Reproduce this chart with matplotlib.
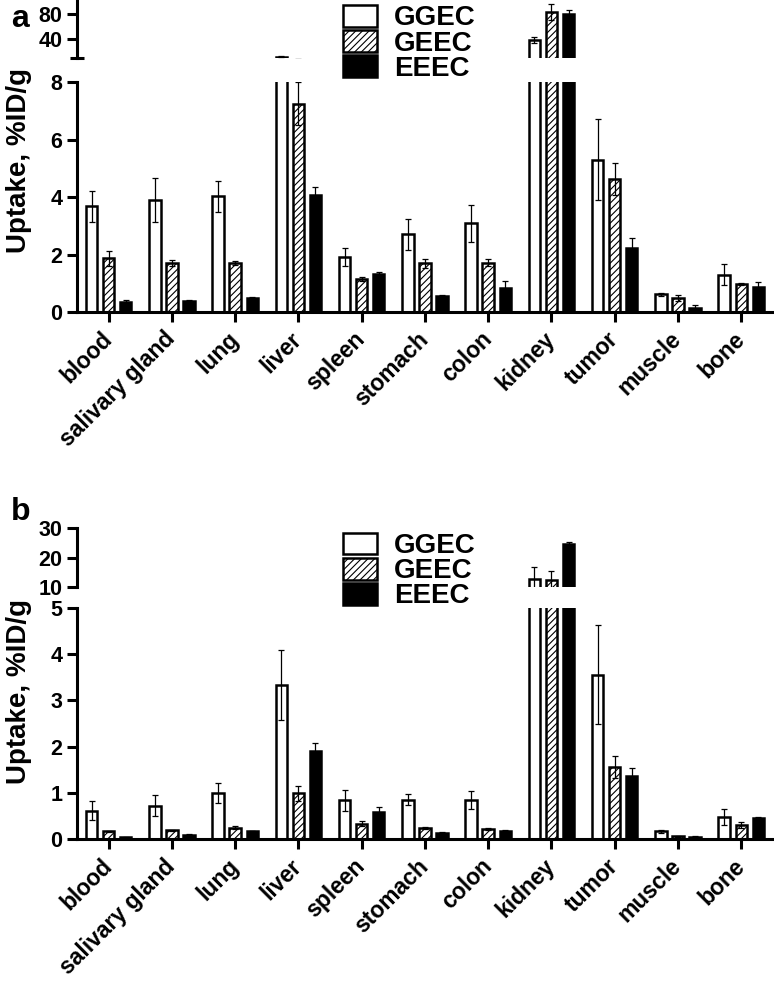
import numpy as np
import matplotlib
matplotlib.use("Agg")
import matplotlib.pyplot as plt

plt.rcParams['font.family'] = ['Liberation Sans', 'DejaVu Sans']
plt.rcParams['font.weight'] = 'bold'
plt.rcParams['hatch.linewidth'] = 0.8

organs = ['blood', 'salivary gland', 'lung', 'liver', 'spleen', 'stomach',
          'colon', 'kidney', 'tumor', 'muscle', 'bone']
series = ['GGEC', 'GEEC', 'EEEC']

# panel a
a_ggec = [3.68, 3.89, 4.02, 11.3, 1.92, 2.70, 3.09, 38.4, 5.30, 0.62, 1.30]
a_ggec_err = [0.54, 0.77, 0.53, 0.5, 0.32, 0.53, 0.65, 4.3, 1.40, 0.05, 0.37]
a_geec = [1.87, 1.71, 1.71, 7.24, 1.15, 1.69, 1.72, 84.0, 4.62, 0.49, 0.98]
a_geec_err = [0.26, 0.10, 0.07, 0.75, 0.07, 0.15, 0.12, 13.0, 0.55, 0.09, 0.03]
a_eeec = [0.36, 0.40, 0.50, 4.06, 1.32, 0.55, 0.82, 80.5, 2.24, 0.15, 0.88]
a_eeec_err = [0.05, 0.01, 0.03, 0.30, 0.07, 0.03, 0.27, 6.5, 0.35, 0.09, 0.15]

# panel b
b_ggec = [0.62, 0.73, 1.00, 3.34, 0.84, 0.86, 0.85, 12.6, 3.56, 0.17, 0.49]
b_ggec_err = [0.20, 0.23, 0.22, 0.76, 0.23, 0.12, 0.20, 4.2, 1.07, 0.03, 0.17]
b_geec = [0.17, 0.20, 0.25, 0.99, 0.34, 0.25, 0.22, 12.3, 1.56, 0.07, 0.31]
b_geec_err = [0.02, 0.01, 0.03, 0.16, 0.06, 0.02, 0.02, 3.1, 0.23, 0.01, 0.07]
b_eeec = [0.04, 0.09, 0.18, 1.90, 0.59, 0.14, 0.19, 24.5, 1.36, 0.06, 0.46]
b_eeec_err = [0.01, 0.02, 0.01, 0.17, 0.10, 0.01, 0.01, 0.8, 0.18, 0.01, 0.02]

styles = [dict(color='white', hatch=None),
          dict(color='white', hatch='/////'),
          dict(color='black', hatch=None)]

x = np.arange(len(organs))
offsets = [-0.27, 0, 0.27]
width = 0.18


def draw_bars(ax, vals, errs):
    handles = []
    for k in range(3):
        b = ax.bar(x + offsets[k], vals[k], width, facecolor=styles[k]['color'],
                   edgecolor='black', linewidth=1.8, hatch=styles[k]['hatch'],
                   label=series[k], zorder=2)
        ax.errorbar(x + offsets[k], vals[k], yerr=errs[k], fmt='none',
                    ecolor='black', elinewidth=0.9, capsize=2, capthick=0.9,
                    zorder=3)
        handles.append(b)
    ax.set_xlim(-0.5, 10.5)
    return handles


def style_axes(ax):
    for s in ['top', 'right']:
        ax.spines[s].set_visible(False)
    for s in ['left', 'bottom']:
        ax.spines[s].set_linewidth(2.2)
    ax.tick_params(width=2.2, length=7, labelsize=15.5)
    for lab in ax.get_yticklabels():
        lab.set_fontweight('bold')


def make_panel(fig, low_rect, up_rect, vals, errs, low_lim, low_ticks,
               up_lim, up_ticks, letter, letter_y, leg_y, lab_y):
    low = fig.add_axes(low_rect)
    up = fig.add_axes(up_rect, sharex=low)
    draw_bars(low, vals, errs)
    handles = draw_bars(up, vals, errs)
    low.set_ylim(*low_lim)
    low.set_yticks(low_ticks)
    up.set_ylim(*up_lim)
    up.set_yticks(up_ticks)
    style_axes(low)
    style_axes(up)
    up.spines['bottom'].set_visible(False)
    up.tick_params(axis='x', bottom=False, labelbottom=False)
    up.set_yticks([up_lim[0]], minor=True)
    up.tick_params(axis='y', which='minor', direction='inout', length=10,
                   width=2.2)
    low.set_xticks(x)
    low.set_xticklabels(organs, rotation=45, ha='right', va='center',
                        rotation_mode='anchor', fontsize=16.5, fontweight='bold')
    low.tick_params(axis='x', pad=10)
    low.set_ylabel('Uptake, %ID/g', fontsize=20, fontweight='bold')
    low.yaxis.set_label_coords(-0.064, lab_y)
    fig.text(0.014, letter_y, letter, fontsize=23, fontweight='bold',
             va='top', ha='left')
    fig.legend(handles, series, loc='upper left',
               bbox_to_anchor=(0.443, leg_y), frameon=False, fontsize=20,
               handlelength=1.22, handleheight=0.83, labelspacing=-0.05,
               handletextpad=0.62, borderpad=0, borderaxespad=0)


fig = plt.figure(figsize=(7.74, 9.9), dpi=100)

make_panel(fig, [0.0995, 0.6848, 0.899, 0.2323], [0.0995, 0.9411, 0.899, 0.0589],
           [a_ggec, a_geec, a_eeec], [a_ggec_err, a_geec_err, a_eeec_err],
           (0, 8), [0, 2, 4, 6, 8], (8.7, 103), [40, 80], 'a', 0.996, 0.995,
           0.66)

make_panel(fig, [0.0995, 0.1522, 0.899, 0.2338], [0.0995, 0.4071, 0.899, 0.0593],
           [b_ggec, b_geec, b_eeec], [b_ggec_err, b_geec_err, b_eeec_err],
           (0, 5), [0, 1, 2, 3, 4, 5], (10, 30), [10, 20, 30], 'b', 0.498, 0.462,
           0.64)

fig.savefig('out.png', dpi=100)
